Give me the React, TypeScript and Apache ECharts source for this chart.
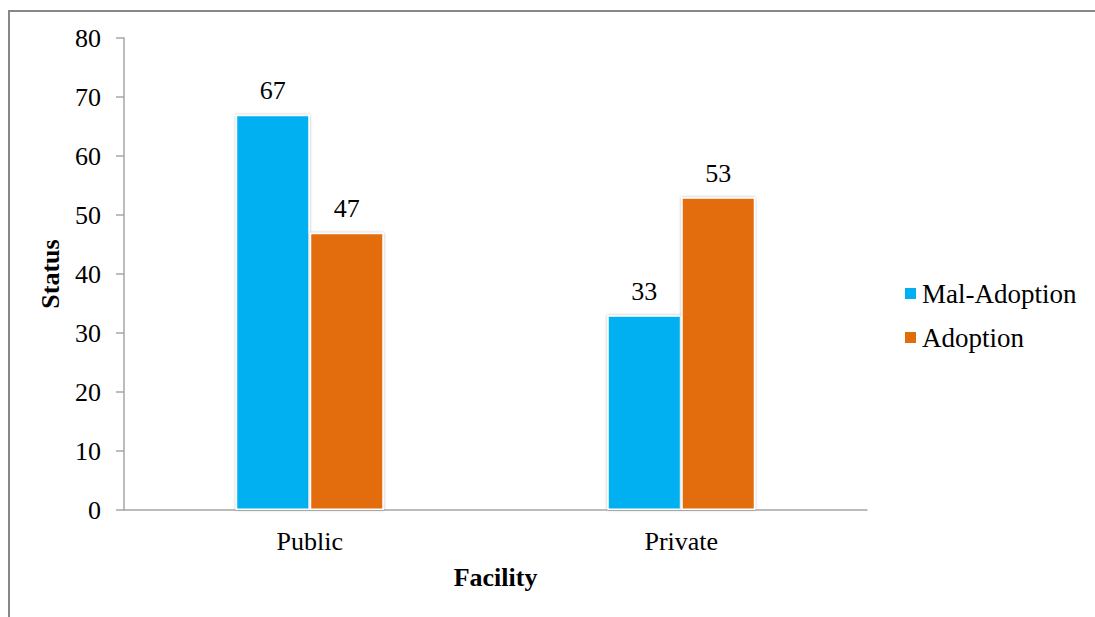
import React, { useEffect, useRef } from "react";
import * as echarts from "echarts";

const categories = ["Public", "Private"];
const malAdoption = [67, 33];
const adoption = [47, 53];
const seriesNames = ["Mal-Adoption", "Adoption"];
const yTicks = [0, 10, 20, 30, 40, 50, 60, 70, 80];

const FONT = "'Liberation Serif', 'Times New Roman', serif";
const FS = 26;

export default function App() {
  const ref = useRef<HTMLDivElement>(null);
  useEffect(() => {
    if (!ref.current) return;
    const chart = echarts.init(ref.current, null, { renderer: "svg" });
    const barCommon = {
      type: "bar",
      barWidth: 74,
      barGap: "0%",
      label: {
        show: true,
        position: "top",
        distance: 11,
        fontFamily: FONT,
        fontSize: FS,
        color: "#000",
      },
    };
    chart.setOption({
      animation: false,
      backgroundColor: "#fff",
      textStyle: { fontFamily: FONT },
      graphic: [
        {
          type: "rect",
          shape: { x: 9, y: 11, width: 1100, height: 620 },
          style: { fill: "none", stroke: "#878787", lineWidth: 2 },
          silent: true,
        },
      ],
      grid: { left: 124, right: 228, top: 38, bottom: 107, containLabel: false },
      legend: {
        orient: "vertical",
        left: 898,
        top: 275,
        itemWidth: 13,
        itemHeight: 13,
        itemGap: 17,
        icon: "rect",
        textStyle: { fontFamily: FONT, fontSize: 27, color: "#000" },
        data: seriesNames,
      },
      xAxis: {
        type: "category",
        data: categories,
        name: "Facility",
        nameLocation: "middle",
        nameGap: 54,
        nameTextStyle: { fontFamily: FONT, fontSize: FS, fontWeight: "bold", color: "#000" },
        axisLine: { lineStyle: { color: "#A6A6A6", width: 1.5 } },
        axisTick: { show: false },
        axisLabel: { fontFamily: FONT, fontSize: FS, color: "#000", margin: 18 },
      },
      yAxis: {
        type: "value",
        min: yTicks[0],
        max: yTicks[yTicks.length - 1],
        interval: 10,
        name: "Status",
        nameLocation: "middle",
        nameGap: 61,
        nameTextStyle: { fontFamily: FONT, fontSize: FS, fontWeight: "bold", color: "#000" },
        axisLine: { show: true, lineStyle: { color: "#A6A6A6", width: 1.5 } },
        axisTick: { show: true, length: 8, lineStyle: { color: "#A6A6A6", width: 1.5 } },
        splitLine: { show: false },
        axisLabel: { fontFamily: FONT, fontSize: FS, color: "#000", margin: 23 },
      },
      series: [
        {
          ...barCommon,
          name: seriesNames[0],
          data: malAdoption,
          itemStyle: {
            color: "#00B0F0",
            borderColor: "#fff",
            borderWidth: 1.5,
            shadowBlur: 3,
            shadowColor: "rgba(0,0,0,0.3)",
          },
        },
        {
          ...barCommon,
          name: seriesNames[1],
          data: adoption,
          itemStyle: {
            color: "#E36C0A",
            borderColor: "#fff",
            borderWidth: 1.5,
            shadowBlur: 3,
            shadowColor: "rgba(0,0,0,0.3)",
          },
        },
      ],
    });
    return () => chart.dispose();
  }, []);
  return (
    <div
      ref={ref}
      style={{ position: "fixed", left: 0, top: 0, width: 1095, height: 617 }}
    />
  );
}
